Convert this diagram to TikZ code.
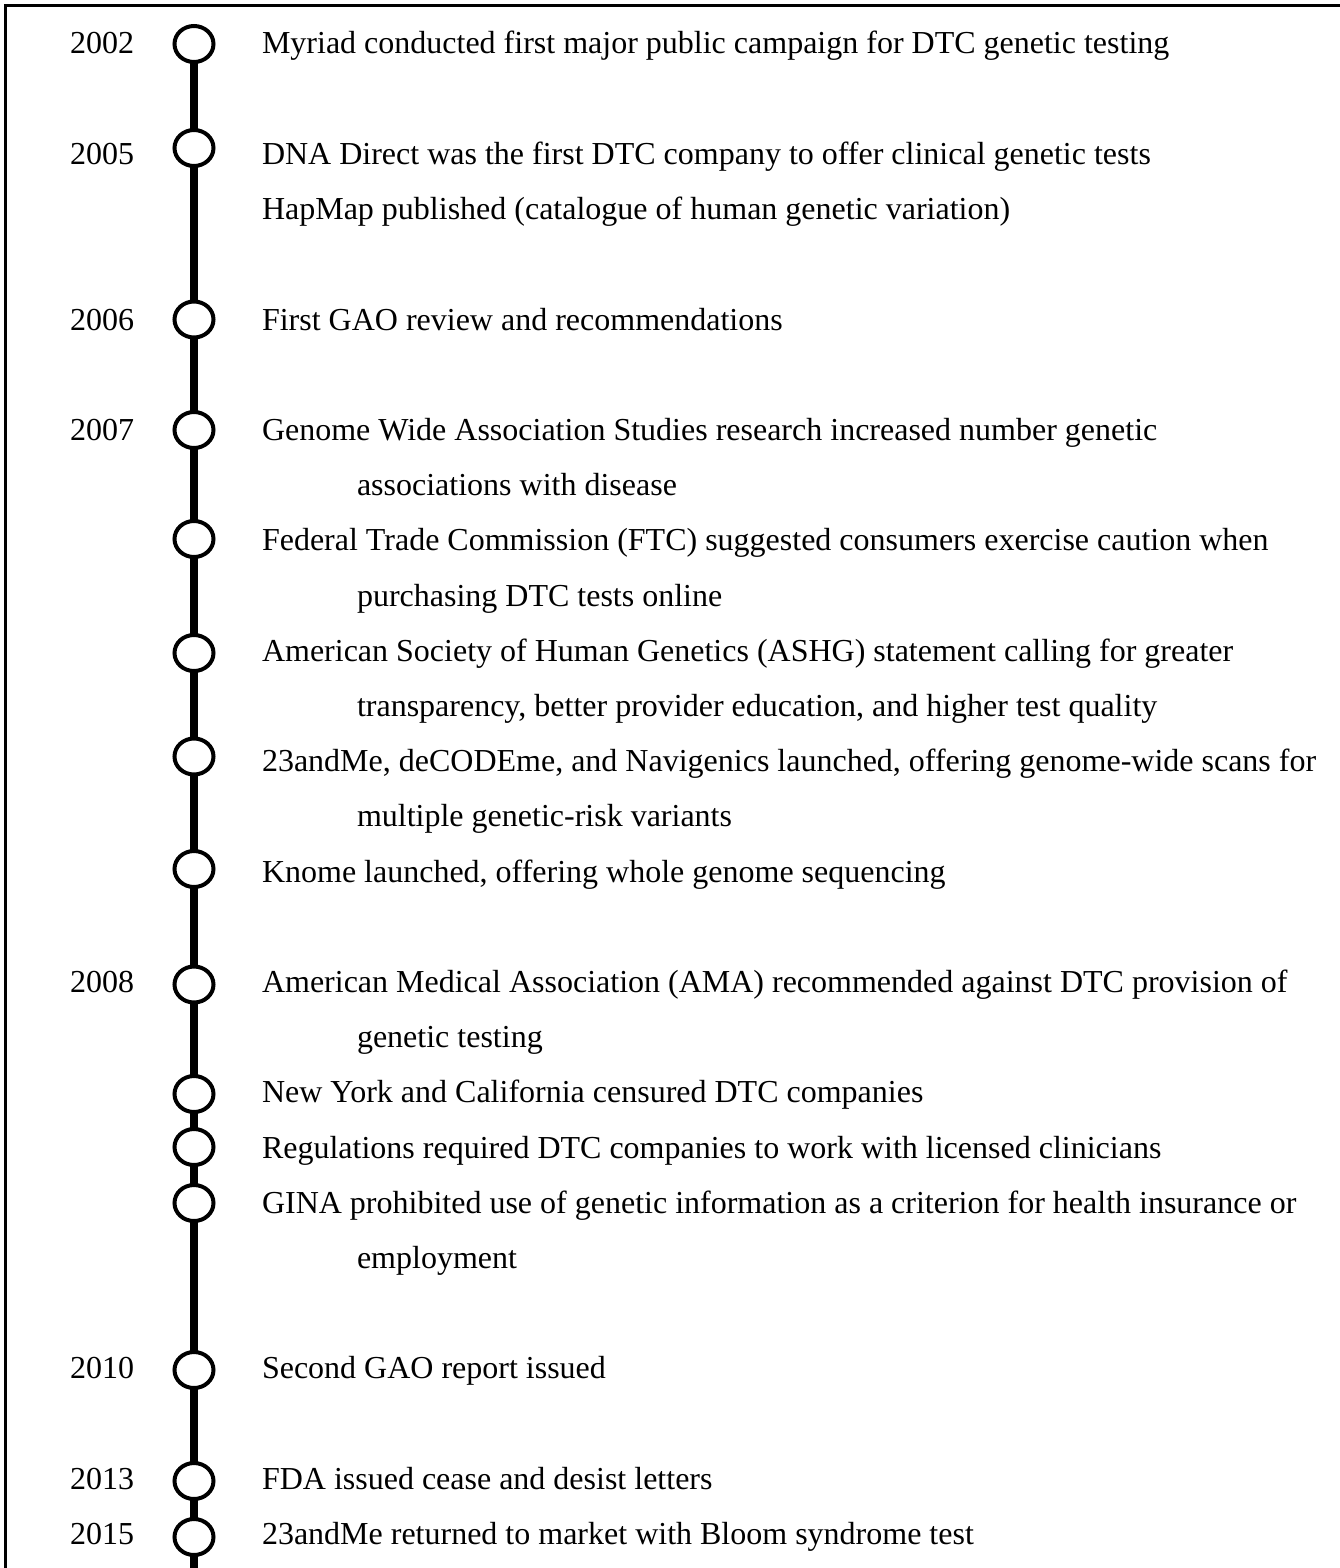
\documentclass[tikz,border=0pt]{standalone}
\usepackage{fontspec}
\setmainfont{Liberation Serif}
\usetikzlibrary{shapes.geometric}
\begin{document}
\begin{tikzpicture}[x=1pt,y=-1pt,
  yr/.style={anchor=base west, inner sep=0pt, outer sep=0pt, font=\fontsize{32}{38}\selectfont},
  ev/.style={yr},
  dot/.style={draw, ellipse, line width=4pt, fill=white, minimum width=39pt, minimum height=36pt, inner sep=0pt, outer sep=1pt},
  spine/.style={line width=8.5pt},
  frame/.style={line width=2.5pt}]
\useasboundingbox (0,0) rectangle (1340,1568);
\draw[frame] (5.5,1568) -- (5.5,5.5) -- (1340,5.5);

% circles
\node[dot] (c1) at (194,44) {};
\node[dot] (c2) at (194,148) {};
\node[dot] (c3) at (194,319.5) {};
\node[dot] (c4) at (194,430) {};
\node[dot] (c5) at (194,539) {};
\node[dot] (c6) at (194,653) {};
\node[dot] (c7) at (194,756.5) {};
\node[dot] (c8) at (194,869) {};
\node[dot] (c9) at (194,984.5) {};
\node[dot] (c10) at (194,1094) {};
\node[dot] (c11) at (194,1147) {};
\node[dot] (c12) at (194,1203) {};
\node[dot] (c13) at (194,1370) {};
\node[dot] (c14) at (194,1481) {};
\node[dot] (c15) at (194,1537) {};
\coordinate (bot) at (194,1570);

% spine
\foreach \a/\b in {c1/c2,c2/c3,c3/c4,c4/c5,c5/c6,c6/c7,c7/c8,c8/c9,c9/c10,c10/c11,c11/c12,c12/c13,c13/c14,c14/c15,c15/bot}
  \draw[spine] (\a) -- (\b);

% years
\node[yr] (y1) at (70,54) {2002};
\node[yr] (y2) at (70,164.4) {2005};
\node[yr] (y3) at (70,330) {2006};
\node[yr] (y4) at (70,440.4) {2007};
\node[yr] (y5) at (70,992.4) {2008};
\node[yr] (y6) at (70,1378.8) {2010};
\node[yr] (y7) at (70,1489.2) {2013};
\node[yr] (y8) at (70,1544.4) {2015};

% events
\node[ev] (e1) at (262,54) {Myriad conducted first major public campaign for DTC genetic testing};
\node[ev] (e2) at (262,164.4) {DNA Direct was the first DTC company to offer clinical genetic tests};
\node[ev] (e2b) at (262,219.6) {HapMap published (catalogue of human genetic variation)};
\node[ev] (e3) at (262,330) {First GAO review and recommendations};
\node[ev] (e4) at (262,440.4) {Genome Wide Association Studies research increased number genetic};
\node[ev] (e4c) at (357,495.6) {associations with disease};
\node[ev] (e5) at (262,550.8) {Federal Trade Commission (FTC) suggested consumers exercise caution when};
\node[ev] (e5c) at (357,606) {purchasing DTC tests online};
\node[ev] (e6) at (262,661.2) {American Society of Human Genetics (ASHG) statement calling for greater};
\node[ev] (e6c) at (357,716.4) {transparency, better provider education, and higher test quality};
\node[ev] (e7) at (262,771.6) {23andMe, deCODEme, and Navigenics launched, offering genome-wide scans for};
\node[ev] (e7c) at (357,826.8) {multiple genetic-risk variants};
\node[ev] (e8) at (262,882) {Knome launched, offering whole genome sequencing};
\node[ev] (e9) at (262,992.4) {American Medical Association (AMA) recommended against DTC provision of};
\node[ev] (e9c) at (357,1047.6) {genetic testing};
\node[ev] (e10) at (262,1102.8) {New York and California censured DTC companies};
\node[ev] (e11) at (262,1158) {Regulations required DTC companies to work with licensed clinicians};
\node[ev] (e12) at (262,1213.2) {GINA prohibited use of genetic information as a criterion for health insurance or};
\node[ev] (e12c) at (357,1268.4) {employment};
\node[ev] (e13) at (262,1378.8) {Second GAO report issued};
\node[ev] (e14) at (262,1489.2) {FDA issued cease and desist letters};
\node[ev] (e15) at (262,1544.4) {23andMe returned to market with Bloom syndrome test};
\end{tikzpicture}
\end{document}
